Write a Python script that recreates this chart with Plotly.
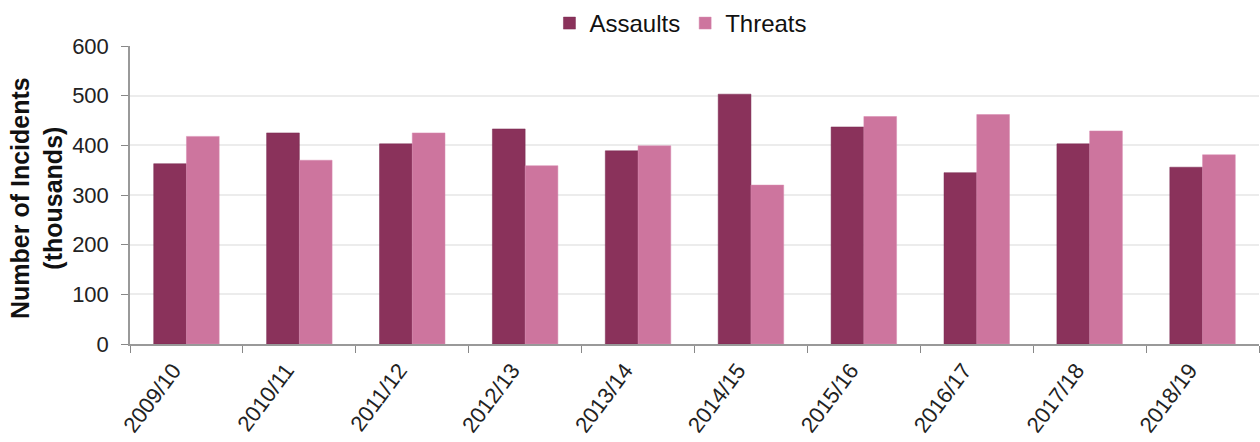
import plotly.graph_objects as go

years = ["2009/10", "2010/11", "2011/12", "2012/13", "2013/14",
         "2014/15", "2015/16", "2016/17", "2017/18", "2018/19"]
assaults = [363, 425, 403, 433, 389, 503, 437, 345, 403, 356]
threats = [418, 370, 425, 359, 399, 320, 458, 462, 429, 381]
y_ticks = [0, 100, 200, 300, 400, 500, 600]

FONT = "Liberation Sans, Arial, sans-serif"
L, R, T, B = 130, 1, 43, 98
PW = 1260 - L - R
PH = 442 - T - B

fig = go.Figure()
fig.add_trace(go.Bar(name="Assaults", x=years, y=assaults,
                     marker=dict(color="#8a325b", line=dict(color="#7a2a50", width=0.5))))
fig.add_trace(go.Bar(name="Threats", x=years, y=threats,
                     marker=dict(color="#cd759e", line=dict(color="#d88bb0", width=0.5))))

fig.update_layout(
    width=1260, height=442,
    margin=dict(l=L, r=R, t=T, b=B),
    paper_bgcolor="white", plot_bgcolor="white",
    barmode="group", bargap=0.42, bargroupgap=0,
    font=dict(family=FONT, size=20, color="#222222"),
    legend=dict(orientation="h", x=0.488, xanchor="center", y=1.0, yanchor="bottom",
                font=dict(size=24, color="#111111"), itemwidth=30,
                traceorder="normal", bgcolor="rgba(0,0,0,0)"),
    showlegend=True,
)
fig.update_xaxes(
    type="category", tickangle=-53, tickson="boundaries",
    ticks="outside", ticklen=7, tickcolor="#888888",
    showline=True, linecolor="#999999", linewidth=1.5,
    tickfont=dict(size=22, color="#222222"), showgrid=False, automargin=False,
    ticklabelshift=-13, ticklabelstandoff=3,
)
fig.update_yaxes(
    range=[0, 600], tickvals=y_ticks, ticks="outside", ticklen=7, tickcolor="#888888",
    showline=True, linecolor="#999999", linewidth=1.5,
    showgrid=True, gridcolor="#ececec", gridwidth=1.5,
    tickfont=dict(size=22, color="#222222"),
    zeroline=False, automargin=False, ticklabelstandoff=8,
)
fig.add_annotation(
    text="<b>Number of Incidents<br>(thousands)</b>", textangle=-90,
    xref="paper", yref="paper", x=-(L - 37) / PW, y=0.49,
    xanchor="center", yanchor="middle", showarrow=False,
    font=dict(size=25, color="#111111"),
)

fig.write_html("out.html", config={"displayModeBar": False},
               post_script="document.body.style.margin='0';")
